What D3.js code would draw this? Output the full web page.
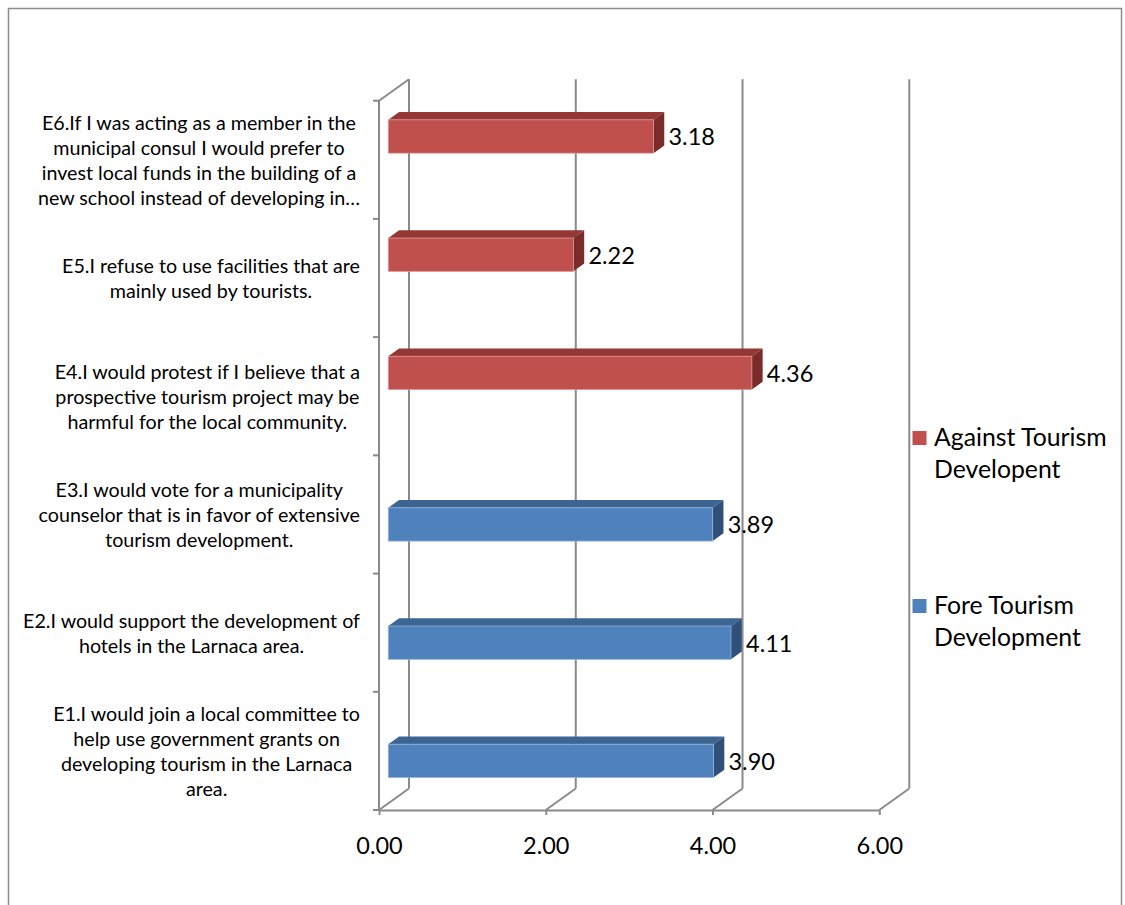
<!DOCTYPE html>
<html>
<head>
<meta charset="utf-8">
<script src="https://cdn.jsdelivr.net/npm/d3@7"></script>
<style>
  body { margin: 0; background: #fff; }
  svg { display: block; font-family: Lato, "Open Sans", sans-serif; }
</style>
</head>
<body>
<svg id="chart" width="1125" height="905"></svg>
<script>
// ---------- data ----------
const categories = ["E6", "E5", "E4", "E3", "E2", "E1"];
const categoryLabels = [
  ["E6.If I was acting as a member in the", "municipal consul I would prefer to", "invest local funds in the building of a", "new school instead of developing in…"],
  ["E5.I refuse to use facilities that are", "mainly used by tourists."],
  ["E4.I would protest if I believe that a", "prospective tourism project may be", "harmful for the local community."],
  ["E3.I would vote for a municipality", "counselor that is in favor of extensive", "tourism development."],
  ["E2.I would support the development of", "hotels in the Larnaca area."],
  ["E1.I would join a local committee to", "help use government grants on", "developing tourism in the Larnaca", "area."]
];
const seriesNames = ["Against Tourism Developent", "Fore Tourism Development"];
const legendLines = [["Against Tourism", "Developent"], ["Fore Tourism", "Development"]];
const againstValues = [3.18, 2.22, 4.36, null, null, null];
const foreValues = [null, null, null, 3.89, 4.11, 3.90];
const xTicks = [0, 2, 4, 6];

// ---------- styles ----------
const palette = [
  { front: "#C0504D", top: "#953735", side: "#7A2C2A", edge: "#D99694" },
  { front: "#4F81BD", top: "#3D6594", side: "#2F5078", edge: "#95B3D7" }
];
const gridColor = "#8A8A8A";
const DX = 30, DY = -21.5;        // depth vector of the 3D box
const T1 = 0.31, T2 = 0.67;       // bar depth range inside box

const svg = d3.select("#chart");

// outer border
svg.append("rect").attr("x", 8.5).attr("y", 8.5).attr("width", 1113).attr("height", 920)
  .attr("fill", "none").attr("stroke", "#8C8C8C").attr("stroke-width", 1.5);

const x = d3.scaleLinear().domain([0, 6]).range([379, 879.3]);
const y = d3.scaleBand().domain(categories).range([100.7, 810]);
const ys = d3.scaleBand().domain(seriesNames).range([0, y.bandwidth()]).paddingOuter(0.775);

const yTop = y.range()[0], yBot = y.range()[1];

// ---------- walls / gridlines ----------
const g = svg.append("g").attr("stroke", gridColor).attr("stroke-width", 2).attr("fill", "none");
xTicks.forEach(v => {
  g.append("line").attr("x1", x(v) + DX).attr("x2", x(v) + DX)
    .attr("y1", yTop + DY).attr("y2", yBot + DY);
  g.append("line").attr("x1", x(v)).attr("y1", yBot).attr("x2", x(v) + DX).attr("y2", yBot + DY);
});
g.append("line").attr("x1", x(0)).attr("x2", x(0)).attr("y1", yTop).attr("y2", yBot);
g.append("line").attr("x1", x(0)).attr("y1", yTop).attr("x2", x(0) + DX).attr("y2", yTop + DY);
const edges = categories.map(c => y(c)).concat([yBot]);
edges.forEach(e => {
  g.append("line").attr("x1", x(0) - 6).attr("x2", x(0)).attr("y1", e).attr("y2", e);
});

// x axis on front floor edge
const xAxis = d3.axisBottom(x).tickValues(xTicks).tickFormat(d3.format(".2f")).tickSize(5).tickSizeOuter(0);
const ax = svg.append("g").attr("transform", `translate(0,${yBot})`).call(xAxis);
ax.select(".domain").attr("stroke", gridColor).attr("stroke-width", 2);
ax.selectAll(".tick line").attr("stroke", gridColor).attr("stroke-width", 2);
ax.selectAll(".tick text").attr("font-size", 23.5).attr("font-family", "Lato, 'Open Sans', sans-serif")
  .attr("fill", "#000").attr("dy", null).attr("y", 0).attr("dominant-baseline", "central")
  .attr("transform", "translate(0,35)");

// ---------- bars ----------
const series = [againstValues, foreValues];
const barsG = svg.append("g");
const labelsG = svg.append("g");
const d1x = DX * T1, d1y = DY * T1;
const ddx = DX * (T2 - T1), ddy = DY * (T2 - T1);
series.forEach((vals, si) => {
  const col = palette[si];
  vals.forEach((v, ci) => {
    if (v == null) return;
    const c = categories[ci];
    const x0 = x(0) + d1x, x1 = x(v) + d1x;
    const top = y(c) + ys(seriesNames[si]) + d1y;
    const h = ys.bandwidth();
    const bg = barsG.append("g");
    bg.append("polygon").attr("points", [[x0, top], [x1, top], [x1 + ddx, top + ddy], [x0 + ddx, top + ddy]].join(" "))
      .attr("fill", col.top);
    bg.append("polygon").attr("points", [[x1, top], [x1 + ddx, top + ddy], [x1 + ddx, top + ddy + h], [x1, top + h]].join(" "))
      .attr("fill", col.side);
    bg.append("rect").attr("x", x0).attr("y", top).attr("width", x1 - x0).attr("height", h)
      .attr("fill", col.front).attr("stroke", col.edge).attr("stroke-width", 0.8);
    labelsG.append("text").attr("x", x1 + 15).attr("y", top + h / 2)
      .attr("dominant-baseline", "central").attr("font-size", 23.5).attr("fill", "#000")
      .text(d3.format(".2f")(v));
  });
});

// ---------- category labels ----------
const catG = svg.append("g");
const lineH = 25;
categories.forEach((c, ci) => {
  const lines = categoryLabels[ci];
  const cy = y(c) + y.bandwidth() / 2;
  const grp = catG.append("g");
  const texts = lines.map((ln, li) => grp.append("text")
    .attr("font-size", 19.7).attr("fill", "#000").attr("text-anchor", "middle")
    .attr("dominant-baseline", "central")
    .attr("y", cy + (li - (lines.length - 1) / 2) * lineH).text(ln));
  const maxW = d3.max(texts, t => t.node().getComputedTextLength());
  const cx = 360 - maxW / 2;
  texts.forEach(t => t.attr("x", cx));
});

// ---------- legend ----------
const legendY = [446, 614];
const legG = svg.append("g");
seriesNames.forEach((s, si) => {
  const by = legendY[si];
  legG.append("rect").attr("x", 912.5).attr("y", by - 15).attr("width", 14).attr("height", 14)
    .attr("fill", palette[si].front);
  legendLines[si].forEach((ln, li) => {
    legG.append("text").attr("x", 934).attr("y", by + li * 32).attr("font-size", 24.8)
      .attr("fill", "#000").text(ln);
  });
});
</script>
</body>
</html>
